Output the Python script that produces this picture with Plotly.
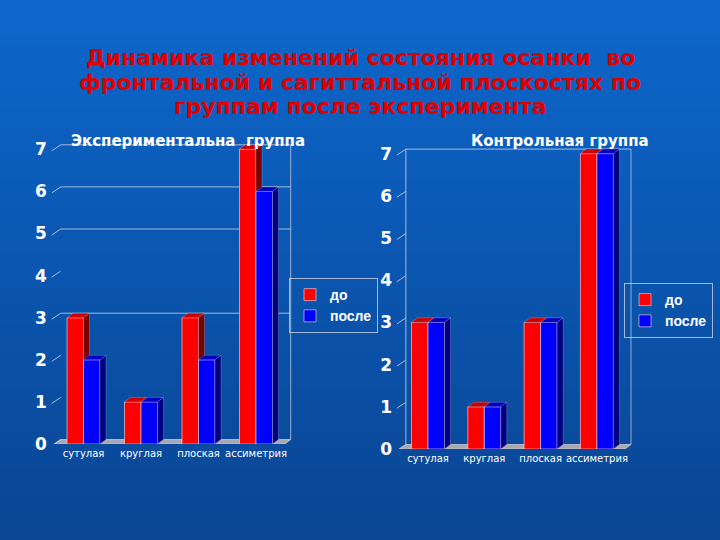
import plotly.graph_objects as go

# ---------------- data ----------------
categories = ["сутулая", "круглая", "плоская", "ассиметрия"]
series_names = ["до", "после"]
exp_before = [3, 1, 3, 7]
exp_after = [2, 1, 2, 6]
ctrl_before = [3, 1, 3, 7]
ctrl_after = [3, 1, 3, 7]
y_ticks = [0, 1, 2, 3, 4, 5, 6, 7]
exp_grid = [3, 5, 6, 7]
ctrl_grid = [7]
title_lines = ["Динамика изменений состояния осанки\u00a0 во",
               "фронтальной и сагиттальной плоскостях по",
               "группам после эксперимента"]
subtitles = ["Экспериментальна\u00a0 группа", "Контрольная группа"]

W, H = 720, 540
FONT = "DejaVu Sans, Liberation Sans, Arial"
LFONT = "Liberation Sans, Arial"
RED, RED_TOP, RED_SIDE = "#ff0000", "#cc0000", "#7a0000"
BLUE, BLUE_TOP, BLUE_SIDE = "#0000ff", "#0000c4", "#000080"
WALL = "rgba(205,210,225,0.8)"

XR = [-0.62, 3.62]
YTOP = 7.15
DXP, DYP = 6.0, 4.5  # 3-D depth offsets in pixels

panels = [
    dict(kx=57.5, c0=83.5, y0=444.0, ky=42.1, before=exp_before, after=exp_after,
         grid=exp_grid, leftwall=False, legend="legend", sub=subtitles[0], subx=188, ax=""),
    dict(kx=56.3, c0=428.0, y0=449.0, ky=42.2, before=ctrl_before, after=ctrl_after,
         grid=ctrl_grid, leftwall=True, legend="legend2", sub=subtitles[1], subx=560, ax="2"),
]

fig = go.Figure()
shapes = []
annotations = []

# background gradient
top_c = (14, 104, 204)
mid_c = (11, 86, 176)
bot_c = (10, 70, 148)
NB = 60
for i in range(NB):
    t = i / (NB - 1)
    if t < 0.5:
        u = t / 0.5
        c = tuple(int(top_c[k] + (mid_c[k] - top_c[k]) * u) for k in range(3))
    else:
        u = (t - 0.5) / 0.5
        c = tuple(int(mid_c[k] + (bot_c[k] - mid_c[k]) * u) for k in range(3))
    shapes.append(dict(type="rect", xref="paper", yref="paper", x0=0, x1=1,
                       y1=1 - i / NB, y0=1 - (i + 1) / NB - 0.002,
                       fillcolor="rgb(%d,%d,%d)" % c, line=dict(width=0), layer="below"))

def P(pts):
    return "M " + " L ".join("%.4f,%.4f" % p for p in pts) + " Z"

for pi, p in enumerate(panels):
    kx, ky = p["kx"], p["ky"]
    dx, dy = DXP / kx, DYP / ky
    w = 16.5 / kx
    xa = "x" + p["ax"]
    ya = "y" + p["ax"]
    xd = [(p["c0"] + XR[0] * kx) / W, (p["c0"] + XR[1] * kx) / W]
    yd = [1 - p["y0"] / H, 1 - (p["y0"] - YTOP * ky) / H]
    n = len(categories)
    idx = list(range(n))

    # floor
    shapes.append(dict(type="path", xref=xa, yref=ya, layer="below",
                       path=P([(-0.5, 0), (n - 0.5, 0), (n - 0.5 + dx, dy), (-0.5 + dx, dy)]),
                       fillcolor="#a8a8b0", line=dict(color="#c8c8d0", width=0.8)))
    # boundary ticks on the category axis
    for b in range(n + 1):
        shapes.append(dict(type="line", xref=xa, yref=ya, layer="below",
                           x0=b - 0.5, x1=b - 0.5, y0=0, y1=-4 / ky,
                           line=dict(color=WALL, width=1)))
    # back wall
    shapes.append(dict(type="line", xref=xa, yref=ya, layer="below",
                       x0=n - 0.5 + dx, x1=n - 0.5 + dx, y0=dy, y1=7 + dy,
                       line=dict(color=WALL, width=1)))
    if p["leftwall"]:
        shapes.append(dict(type="line", xref=xa, yref=ya, layer="below",
                           x0=-0.5 + dx, x1=-0.5 + dx, y0=dy, y1=7 + dy,
                           line=dict(color=WALL, width=1)))
    for g in p["grid"]:
        shapes.append(dict(type="line", xref=xa, yref=ya, layer="below",
                           x0=-0.5 + dx, x1=n - 0.5 + dx, y0=g + dy, y1=g + dy,
                           line=dict(color=WALL, width=1)))
    # slanted tick marks
    for v in y_ticks:
        shapes.append(dict(type="line", xref=xa, yref=ya, layer="below",
                           x0=-0.5 - 3 / kx, y0=v - 1.5 / ky, x1=-0.5 + dx, y1=v + dy,
                           line=dict(color=WALL, width=1)))

    # front faces (bars)
    for name, vals, off, col in [(series_names[0], p["before"], -w, RED),
                                 (series_names[1], p["after"], 0.0, BLUE)]:
        fig.add_trace(go.Bar(x=idx, y=vals, width=w, offset=off, name=name,
                             marker=dict(color=col, line=dict(color="rgba(255,220,220,0.75)", width=0.8)),
                             xaxis=xa, yaxis=ya, legend=p["legend"], hoverinfo="skip"))

    # 3-D top and side faces, derived from the same values
    def faces(vals, left_off, clip_vals=None):
        tx, ty, sx, sy = [], [], [], []
        for i, v in enumerate(vals):
            xl = i + left_off
            xr = xl + w
            tx += [xl, xr, xr + dx, xl + dx, xl, None]
            ty += [v, v, v + dy, v + dy, v, None]
            if clip_vals is not None:
                lo = clip_vals[i]
                if lo >= v:
                    continue
                sx += [xr, xr + dx, xr + dx, xr, xr, None]
                sy += [lo, lo, v + dy, v, lo, None]
            else:
                sx += [xr, xr + dx, xr + dx, xr, xr, None]
                sy += [0, dy, v + dy, v, 0, None]
        return tx, ty, sx, sy

    rtx, rty, rsx, rsy = faces(p["before"], -w, clip_vals=p["after"])
    btx, bty, bsx, bsy = faces(p["after"], 0.0)
    for xs, ys, col in [(rtx, rty, RED_TOP), (rsx, rsy, RED_SIDE),
                        (btx, bty, BLUE_TOP), (bsx, bsy, BLUE_SIDE)]:
        if not xs:
            continue
        fig.add_trace(go.Scatter(x=xs, y=ys, mode="lines", fill="toself", fillcolor=col,
                                 line=dict(color="rgba(255,255,255,0.35)", width=0.6),
                                 xaxis=xa, yaxis=ya, showlegend=False, hoverinfo="skip"))

    axis_x = dict(domain=xd, range=XR, tickvals=idx, ticktext=categories,
                  showgrid=False, zeroline=False, showline=False, ticks="",
                  tickangle=0, ticklabelstandoff=2, automargin=False,
                  tickfont=dict(family=FONT, size=10, color="white"),
                  anchor=ya, fixedrange=True)
    axis_y = dict(domain=yd, range=[0, YTOP], tickvals=y_ticks,
                  showgrid=False, zeroline=False, showline=False, ticks="",
                  tickfont=dict(family=FONT, size=17, color="white", weight="bold"),
                  anchor=xa, fixedrange=True, ticklabelstandoff=0, automargin=False)
    fig.update_layout(**{"xaxis" + p["ax"]: axis_x, "yaxis" + p["ax"]: axis_y})

    annotations.append(dict(text="<b>%s</b>" % p["sub"], x=p["subx"] / W, y=1 - 141 / H,
                            xref="paper", yref="paper", showarrow=False,
                            xanchor="center", yanchor="middle",
                            font=dict(family=FONT, size=15, color="white")))

for i, line in enumerate(title_lines):
    annotations.append(dict(text="<b>%s</b>" % line, x=0.5, y=1 - (58 + 24 * i) / H,
                            xref="paper", yref="paper", showarrow=False,
                            xanchor="center", yanchor="middle",
                            font=dict(family=FONT, size=22, color="#dd0000")))

leg = dict(bgcolor="rgba(0,0,0,0)", bordercolor=WALL, borderwidth=1,
           font=dict(family=LFONT, size=14, color="white", weight="bold"),
           xanchor="right", yanchor="top", xref="paper", yref="paper",
           itemwidth=30, itemclick=False, itemdoubleclick=False)
fig.update_layout(
    width=W, height=H, margin=dict(l=0, r=0, t=0, b=0, autoexpand=False),
    paper_bgcolor="rgb(10,70,148)", plot_bgcolor="rgba(0,0,0,0)",
    barmode="overlay", shapes=shapes, annotations=annotations,
    legend=dict(leg, x=378 / W, y=1 - 278 / H),
    legend2=dict(leg, x=713 / W, y=1 - 283 / H),
    showlegend=True,
)

fig.write_html("out.html", config={"displayModeBar": False},
               post_script="document.body.style.margin='0';")
